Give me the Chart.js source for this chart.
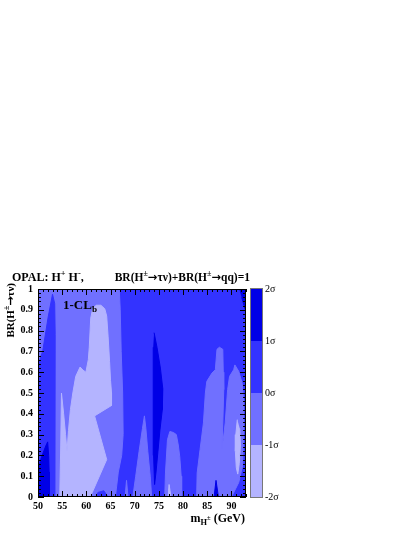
<!DOCTYPE html>
<html lang="en">
<head>
<meta charset="UTF-8">
<title>OPAL H+H- 1-CLb</title>
<script src="https://cdn.jsdelivr.net/npm/chart.js"></script>
<style>
  html, body { margin: 0; padding: 0; background: #fff; }
</style>
</head>
<body>
<canvas id="chart" width="415" height="537"></canvas>
<script>
// axes
const massTicks = [50, 55, 60, 65, 70, 75, 80, 85, 90];
const brTicks = [0, 0.1, 0.2, 0.3, 0.4, 0.5, 0.6, 0.7, 0.8, 0.9, 1];
const brLabels = ['0', '0.1', '0.2', '0.3', '0.4', '0.5', '0.6', '0.7', '0.8', '0.9', '1'];
const sigmaLevels = [-2, -1, 0, 1, 2];
const sigmaLabels = ['-2σ', '-1σ', '0σ', '1σ', '2σ'];
const bandColors = ['#b4b4ff', '#7070ff', '#3333ff', '#0000e6']; // -2..-1, -1..0, 0..1, 1..2

// contour regions, [m_H (GeV), BR] vertices
const wholePlane = [[50, 0], [50, 1], [93, 1], [93, 0]];
const lowLeft = [[50, 0], [50, 1], [66.8, 1], [67.0, 0.9], [67.2, 0.7], [67.5, 0.5], [67.6, 0.3], [67.3, 0.2], [66.6, 0.12], [66.0, 0]];
const leftSpike = [[50, 0], [50, 0.63], [51.0, 0.705], [52.1, 0.865], [53.0, 0.975], [53.45, 0.93], [53.55, 0.78], [53.5, 0]];
const darkCorner = [[50, 0], [50, 0.13], [50.7, 0.19], [51.6, 0.245], [52.0, 0.265], [52.2, 0.2], [52.3, 0.12], [52.35, 0]];
const deepLow = [[54.5, 0], [54.7, 0.25], [54.85, 0.5], [55.3, 0.4], [55.7, 0.3], [56.0, 0.22], [56.3, 0.32], [56.7, 0.42],
  [57.2, 0.5], [57.8, 0.58], [58.7, 0.625], [59.3, 0.61], [59.9, 0.6], [60.4, 0.66], [60.6, 0.72], [60.9, 0.86],
  [61.3, 0.905], [62.0, 0.922], [63.0, 0.922], [63.8, 0.905], [64.2, 0.87], [64.5, 0.77], [64.8, 0.65], [65.0, 0.56],
  [65.2, 0.5], [65.2, 0.44], [61.7, 0.39], [64.2, 0.18], [60.8, 0]];
const blob63 = [[61.9, 0], [62.4, 0.022], [63.6, 0.03], [64.5, 0]];
const thin68 = [[68.0, 0], [68.3, 0.08], [68.6, 0]];
const spike72 = [[69.6, 0], [70.2, 0.1], [70.9, 0.22], [71.6, 0.33], [72.0, 0.39], [72.3, 0.33], [72.7, 0.22], [73.2, 0.1], [73.5, 0]];
const column74 = [[74.0, 0.79], [74.6, 0.72], [75.3, 0.62], [75.8, 0.52], [75.7, 0.42], [75.2, 0.32], [74.8, 0.22],
  [74.4, 0.12], [74.1, 0.06], [73.9, 0.2], [73.8, 0.4], [73.8, 0.6], [73.85, 0.72]];
const spike77 = [[76.2, 0], [76.35, 0.115], [76.76, 0.275], [77.26, 0.315], [78.0, 0.31], [78.6, 0.3], [79.0, 0.25], [79.3, 0.195], [79.6, 0.1], [79.7, 0]];
const dot77 = [[76.9, 0], [77.1, 0.06], [77.5, 0]];
const rightLow = [[82.8, 0], [82.9, 0.115], [83.5, 0.227], [84.2, 0.356], [84.6, 0.5], [84.9, 0.556], [85.97, 0.596],
  [86.66, 0.612], [87.0, 0.71], [87.5, 0.72], [88.2, 0.71], [88.3, 0.6], [88.4, 0.516], [88.2, 0.35], [88.05, 0.227],
  [88.7, 0.356], [89.2, 0.516], [89.6, 0.58], [90.45, 0.612], [90.7, 0.635], [91.5, 0.604], [92.2, 0.548],
  [92.5, 0.468], [92.5, 0.3], [92.3, 0.15], [91.5, 0.07], [90.0, 0]];
const rightDeep = [[91.2, 0.372], [90.9, 0.3], [90.8, 0.22], [91.0, 0.14], [91.3, 0.11], [91.6, 0.16], [91.85, 0.25], [91.7, 0.33]];
const dot87 = [[86.4, 0], [86.8, 0.08], [87.3, 0]];
const topCorner = [[91.6, 1], [93, 1], [93, 0.89], [92.6, 0.92], [92.1, 0.96]];

// bottom to top, with the lower sigma edge of each band
const layers = [
  [wholePlane, 0], [lowLeft, -1], [leftSpike, 0], [darkCorner, 1], [deepLow, -2], [blob63, 0],
  [thin68, -1], [spike72, -1], [column74, 1], [spike77, -1], [dot77, -2], [rightLow, -1],
  [rightDeep, -2], [dot87, 1], [topCorner, 1]
];

const serif = '"Liberation Serif", "Times New Roman", serif';
const arrowFont = '"DejaVu Sans", sans-serif';
const tickFont = { family: serif, size: 10, weight: 'bold' };

const datasets = layers.map(([pts, level], i) => {
  const c = bandColors[sigmaLevels.indexOf(level)];
  return {
    data: pts.map(([x, y]) => ({ x, y })),
    showLine: true,
    fill: 'shape',
    backgroundColor: c,
    borderColor: c,
    borderWidth: 1,
    pointRadius: 0,
    tension: 0,
    order: layers.length - i
  };
});

// parts: [text, size factor, baseline shift (em)]; arrows get a wider font
function drawRich(ctx, parts, x, y, size, align) {
  const fontOf = (t, s) => 'bold ' + (size * s) + 'px ' + (t === '→' ? arrowFont : serif);
  let w = 0;
  parts.forEach(([t, s]) => { ctx.font = fontOf(t, s); w += ctx.measureText(t).width; });
  let cx = align === 'right' ? x - w : x;
  parts.forEach(([t, s, dy]) => {
    ctx.font = fontOf(t, s);
    ctx.fillText(t, cx, y + dy * size);
    cx += ctx.measureText(t).width;
  });
}

const framePlugin = {
  id: 'frame',
  afterDatasetsDraw(chart) {
    const { ctx, chartArea: a, scales: { x, y, z } } = chart;
    ctx.save();
    ctx.strokeStyle = '#000';
    ctx.lineWidth = 1;
    ctx.beginPath();
    for (let m = 50; m <= 93; m++) {
      const px = Math.round(x.getPixelForValue(m)) + 0.5;
      const len = m % 5 === 0 ? 6 : 3;
      ctx.moveTo(px, a.bottom); ctx.lineTo(px, a.bottom - len);
      ctx.moveTo(px, a.top); ctx.lineTo(px, a.top + len);
    }
    for (let i = 0; i <= 50; i++) {
      const py = Math.round(y.getPixelForValue(i / 50)) + 0.5;
      const len = i % 5 === 0 ? 6 : 3;
      ctx.moveTo(a.left, py); ctx.lineTo(a.left + len, py);
      ctx.moveTo(a.right, py); ctx.lineTo(a.right - len, py);
    }
    ctx.stroke();
    ctx.strokeRect(a.left + 0.5, a.top + 0.5, a.width - 1, a.height - 1);

    // colour scale
    const bx = a.right + 5, bw = 11;
    for (let i = 0; i < bandColors.length; i++) {
      const y1 = z.getPixelForValue(sigmaLevels[i]);
      const y2 = z.getPixelForValue(sigmaLevels[i + 1]);
      ctx.fillStyle = bandColors[i];
      ctx.fillRect(bx, y2, bw, y1 - y2);
    }
    ctx.strokeStyle = '#777';
    ctx.strokeRect(bx - 0.5, a.top - 0.5, bw + 1, a.height + 1);
    ctx.restore();
  },
  afterDraw(chart) {
    const { ctx, chartArea: a } = chart;
    ctx.save();
    ctx.fillStyle = '#000';
    ctx.textBaseline = 'alphabetic';
    drawRich(ctx, [['OPAL: H', 1, 0], ['+', 0.7, -0.4], [' H', 1, 0], ['-', 0.7, -0.4], [',', 1, 0]], 12, 280.5, 12, 'left');
    drawRich(ctx, [['BR(H', 1, 0], ['±', 0.7, -0.4], ['→', 1, 0], ['τν)+BR(H', 1, 0], ['±', 0.7, -0.4],
      ['→', 1, 0], ['qq)=1', 1, 0]], 250, 280.5, 11.5, 'right');
    drawRich(ctx, [['m', 1, 0], ['H', 0.7, 0.3], ['±', 0.55, -0.1], [' (GeV)', 1, 0]], a.right - 1, 521.5, 12, 'right');
    drawRich(ctx, [['1-CL', 1, 0], ['b', 0.7, 0.25]], 63, 309, 13, 'left');
    ctx.translate(13.5, a.top - 6);
    ctx.rotate(-Math.PI / 2);
    drawRich(ctx, [['BR(H', 1, 0], ['±', 0.7, -0.4], ['→', 1, 0], ['τν)', 1, 0]], 0, 0, 11, 'right');
    ctx.restore();
  }
};

new Chart(document.getElementById('chart'), {
  type: 'scatter',
  data: { datasets },
  options: {
    responsive: false,
    animation: false,
    events: [],
    layout: { padding: { top: 289, left: 0, right: 129, bottom: 20 } },
    plugins: { legend: { display: false }, tooltip: { enabled: false } },
    scales: {
      x: {
        type: 'linear', min: 50, max: 93,
        grid: { display: false, drawTicks: false }, border: { display: false },
        afterBuildTicks: s => { s.ticks = massTicks.map(v => ({ value: v })); },
        ticks: { padding: 3, font: tickFont, color: '#000', maxRotation: 0, autoSkip: false },
        afterFit: s => { s.height = 20; }
      },
      y: {
        type: 'linear', min: 0, max: 1,
        grid: { display: false, drawTicks: false }, border: { display: false },
        afterBuildTicks: s => { s.ticks = brTicks.map(v => ({ value: v })); },
        ticks: { padding: 5, font: tickFont, color: '#000', autoSkip: false, callback: v => brLabels[brTicks.indexOf(v)] },
        afterFit: s => { s.width = 38; }
      },
      z: {
        type: 'linear', position: 'right', min: -2, max: 2,
        grid: { display: false, drawTicks: false }, border: { display: false },
        afterBuildTicks: s => { s.ticks = sigmaLevels.map(v => ({ value: v })); },
        ticks: { padding: 19, font: { family: serif, size: 10 }, color: '#000', autoSkip: false, callback: v => sigmaLabels[sigmaLevels.indexOf(v)] },
        afterFit: s => { s.width = 40; }
      }
    }
  },
  plugins: [framePlugin]
});
</script>
</body>
</html>
